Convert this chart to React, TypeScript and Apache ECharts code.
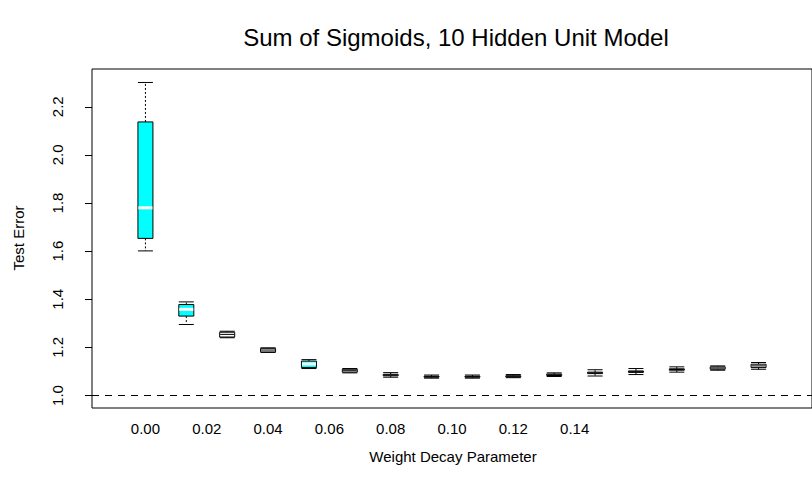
import React, { useEffect, useRef } from 'react';
import * as echarts from 'echarts';

// Weight decay values (one box per value)
const decayLabels = ['0.00', '0.01', '0.02', '0.03', '0.04', '0.05', '0.06', '0.07', '0.08', '0.09', '0.10', '0.11', '0.12', '0.13', '0.14', '0.15'];
// Box statistics of the test error
const whiskerLow = [1.601, 1.295, 1.240, 1.179, 1.112, 1.094, 1.076, 1.072, 1.072, 1.074, 1.079, 1.081, 1.087, 1.097, 1.105, 1.109];
const lowerQuartile = [1.653, 1.330, 1.243, 1.181, 1.116, 1.097, 1.082, 1.076, 1.076, 1.077, 1.083, 1.091, 1.096, 1.105, 1.109, 1.116];
const medians = [1.780, 1.358, 1.254, 1.189, 1.131, 1.103, 1.085, 1.078, 1.078, 1.080, 1.086, 1.094, 1.099, 1.108, 1.114, 1.123];
const upperQuartile = [2.137, 1.378, 1.263, 1.196, 1.143, 1.109, 1.088, 1.080, 1.080, 1.082, 1.089, 1.097, 1.102, 1.111, 1.119, 1.130];
const whiskerHigh = [2.301, 1.389, 1.267, 1.198, 1.149, 1.112, 1.095, 1.085, 1.085, 1.087, 1.094, 1.107, 1.112, 1.119, 1.123, 1.137];
// Boxes drawn filled in cyan
const highlightedBoxes = ['0.00', '0.01', '0.04'];
// Reference level
const referenceError = 1.0;
// Tick labels
const yTicks = [1.0, 1.2, 1.4, 1.6, 1.8, 2.0, 2.2];
const xTickLabels = ['0.00', '0.02', '0.04', '0.06', '0.08', '0.10', '0.12', '0.14'];
const xTickPositions = [0, 1.5, 3, 4.5, 6, 7.5, 9, 10.5];

const FONT = '"Liberation Sans", Arial, Helvetica, sans-serif';

export default function App() {
  const ref = useRef<HTMLDivElement>(null);

  useEffect(() => {
    document.body.style.margin = '0';
    const chart = echarts.init(ref.current!, null, { renderer: 'svg' });

    const data = decayLabels.map((lab, i) => [
      i,
      whiskerLow[i],
      lowerQuartile[i],
      medians[i],
      upperQuartile[i],
      whiskerHigh[i],
      highlightedBoxes.includes(lab) ? 1 : 0,
    ]);

    const halfW = 7.5;

    const renderItem = (params: any, api: any) => {
      const x = api.value(0);
      const pLow = api.coord([x, api.value(1)]);
      const pQ1 = api.coord([x, api.value(2)]);
      const pMed = api.coord([x, api.value(3)]);
      const pQ3 = api.coord([x, api.value(4)]);
      const pHigh = api.coord([x, api.value(5)]);
      const hl = api.value(6) === 1;
      const cx = pMed[0];
      const dash = { stroke: '#000', lineWidth: 1, lineDash: [2, 2] };
      const solid = { stroke: '#000', lineWidth: 1 };
      return {
        type: 'group',
        children: [
          { type: 'line', shape: { x1: cx, y1: pQ3[1], x2: cx, y2: pHigh[1] }, style: dash },
          { type: 'line', shape: { x1: cx, y1: pQ1[1], x2: cx, y2: pLow[1] }, style: dash },
          { type: 'line', shape: { x1: cx - halfW, y1: pHigh[1], x2: cx + halfW, y2: pHigh[1] }, style: solid },
          { type: 'line', shape: { x1: cx - halfW, y1: pLow[1], x2: cx + halfW, y2: pLow[1] }, style: solid },
          {
            type: 'rect',
            shape: { x: cx - halfW, y: pQ3[1], width: halfW * 2, height: pQ1[1] - pQ3[1] },
            style: { fill: hl ? '#00ffff' : '#ffffff', stroke: '#000', lineWidth: 1 },
          },
          {
            type: 'line',
            shape: { x1: cx - halfW + 0.5, y1: pMed[1], x2: cx + halfW - 0.5, y2: pMed[1] },
            style: hl ? { stroke: '#ffffff', lineWidth: 3 } : { stroke: '#000', lineWidth: 1 },
          },
        ],
      };
    };

    chart.setOption({
      animation: false,
      backgroundColor: '#ffffff',
      textStyle: { fontFamily: FONT },
      grid: {
        left: 92,
        top: 69,
        width: 723,
        height: 339,
        show: true,
        borderColor: '#000',
        borderWidth: 1,
        backgroundColor: 'transparent',
      },
      xAxis: {
        type: 'value',
        min: -1.307,
        max: 16.307,
        axisLine: { show: false, onZero: false },
        axisTick: { show: false },
        splitLine: { show: false },
        axisLabel: {
          customValues: xTickPositions,
          formatter: (v: number) => {
            const idx = xTickPositions.findIndex((p) => Math.abs(p - v) < 1e-6);
            return idx >= 0 ? xTickLabels[idx] : '';
          },
          color: '#000',
          fontSize: 15,
          fontFamily: FONT,
          margin: 13,
        },
      },
      yAxis: {
        type: 'value',
        min: 0.948,
        max: 2.357,
        axisLine: { show: false, onZero: false },
        splitLine: { show: false },
        axisTick: { show: true, customValues: yTicks, length: 7, lineStyle: { color: '#000', width: 1 } },
        axisLabel: {
          customValues: yTicks,
          formatter: (v: number) => v.toFixed(1),
          rotate: 90,
          align: 'center',
          verticalAlign: 'middle',
          margin: 35,
          color: '#000',
          fontSize: 15,
          fontFamily: FONT,
        },
      },
      graphic: [
        {
          type: 'text',
          x: 456,
          y: 37,
          style: {
            text: 'Sum of Sigmoids, 10 Hidden Unit Model',
            font: `24px ${FONT}`,
            fill: '#000',
            align: 'center',
            verticalAlign: 'middle',
            textAlign: 'center',
            textVerticalAlign: 'middle',
          },
        },
        {
          type: 'text',
          x: 453,
          y: 456,
          style: {
            text: 'Weight Decay Parameter',
            font: `15px ${FONT}`,
            fill: '#000',
            align: 'center',
            verticalAlign: 'middle',
            textAlign: 'center',
            textVerticalAlign: 'middle',
          },
        },
        {
          type: 'text',
          x: 18,
          y: 238,
          rotation: Math.PI / 2,
          style: {
            text: 'Test Error',
            font: `15px ${FONT}`,
            fill: '#000',
            align: 'center',
            verticalAlign: 'middle',
            textAlign: 'center',
            textVerticalAlign: 'middle',
          },
        },
      ],
      series: [
        {
          type: 'custom',
          renderItem,
          data,
          encode: { x: 0, y: [1, 2, 3, 4, 5] },
          z: 3,
          markLine: {
            silent: true,
            symbol: 'none',
            label: { show: false },
            lineStyle: { color: '#000', width: 1, type: [7, 6] },
            data: [{ yAxis: referenceError }],
          },
        },
      ],
    });

    return () => chart.dispose();
  }, []);

  return <div ref={ref} style={{ width: 812, height: 499 }} />;
}
